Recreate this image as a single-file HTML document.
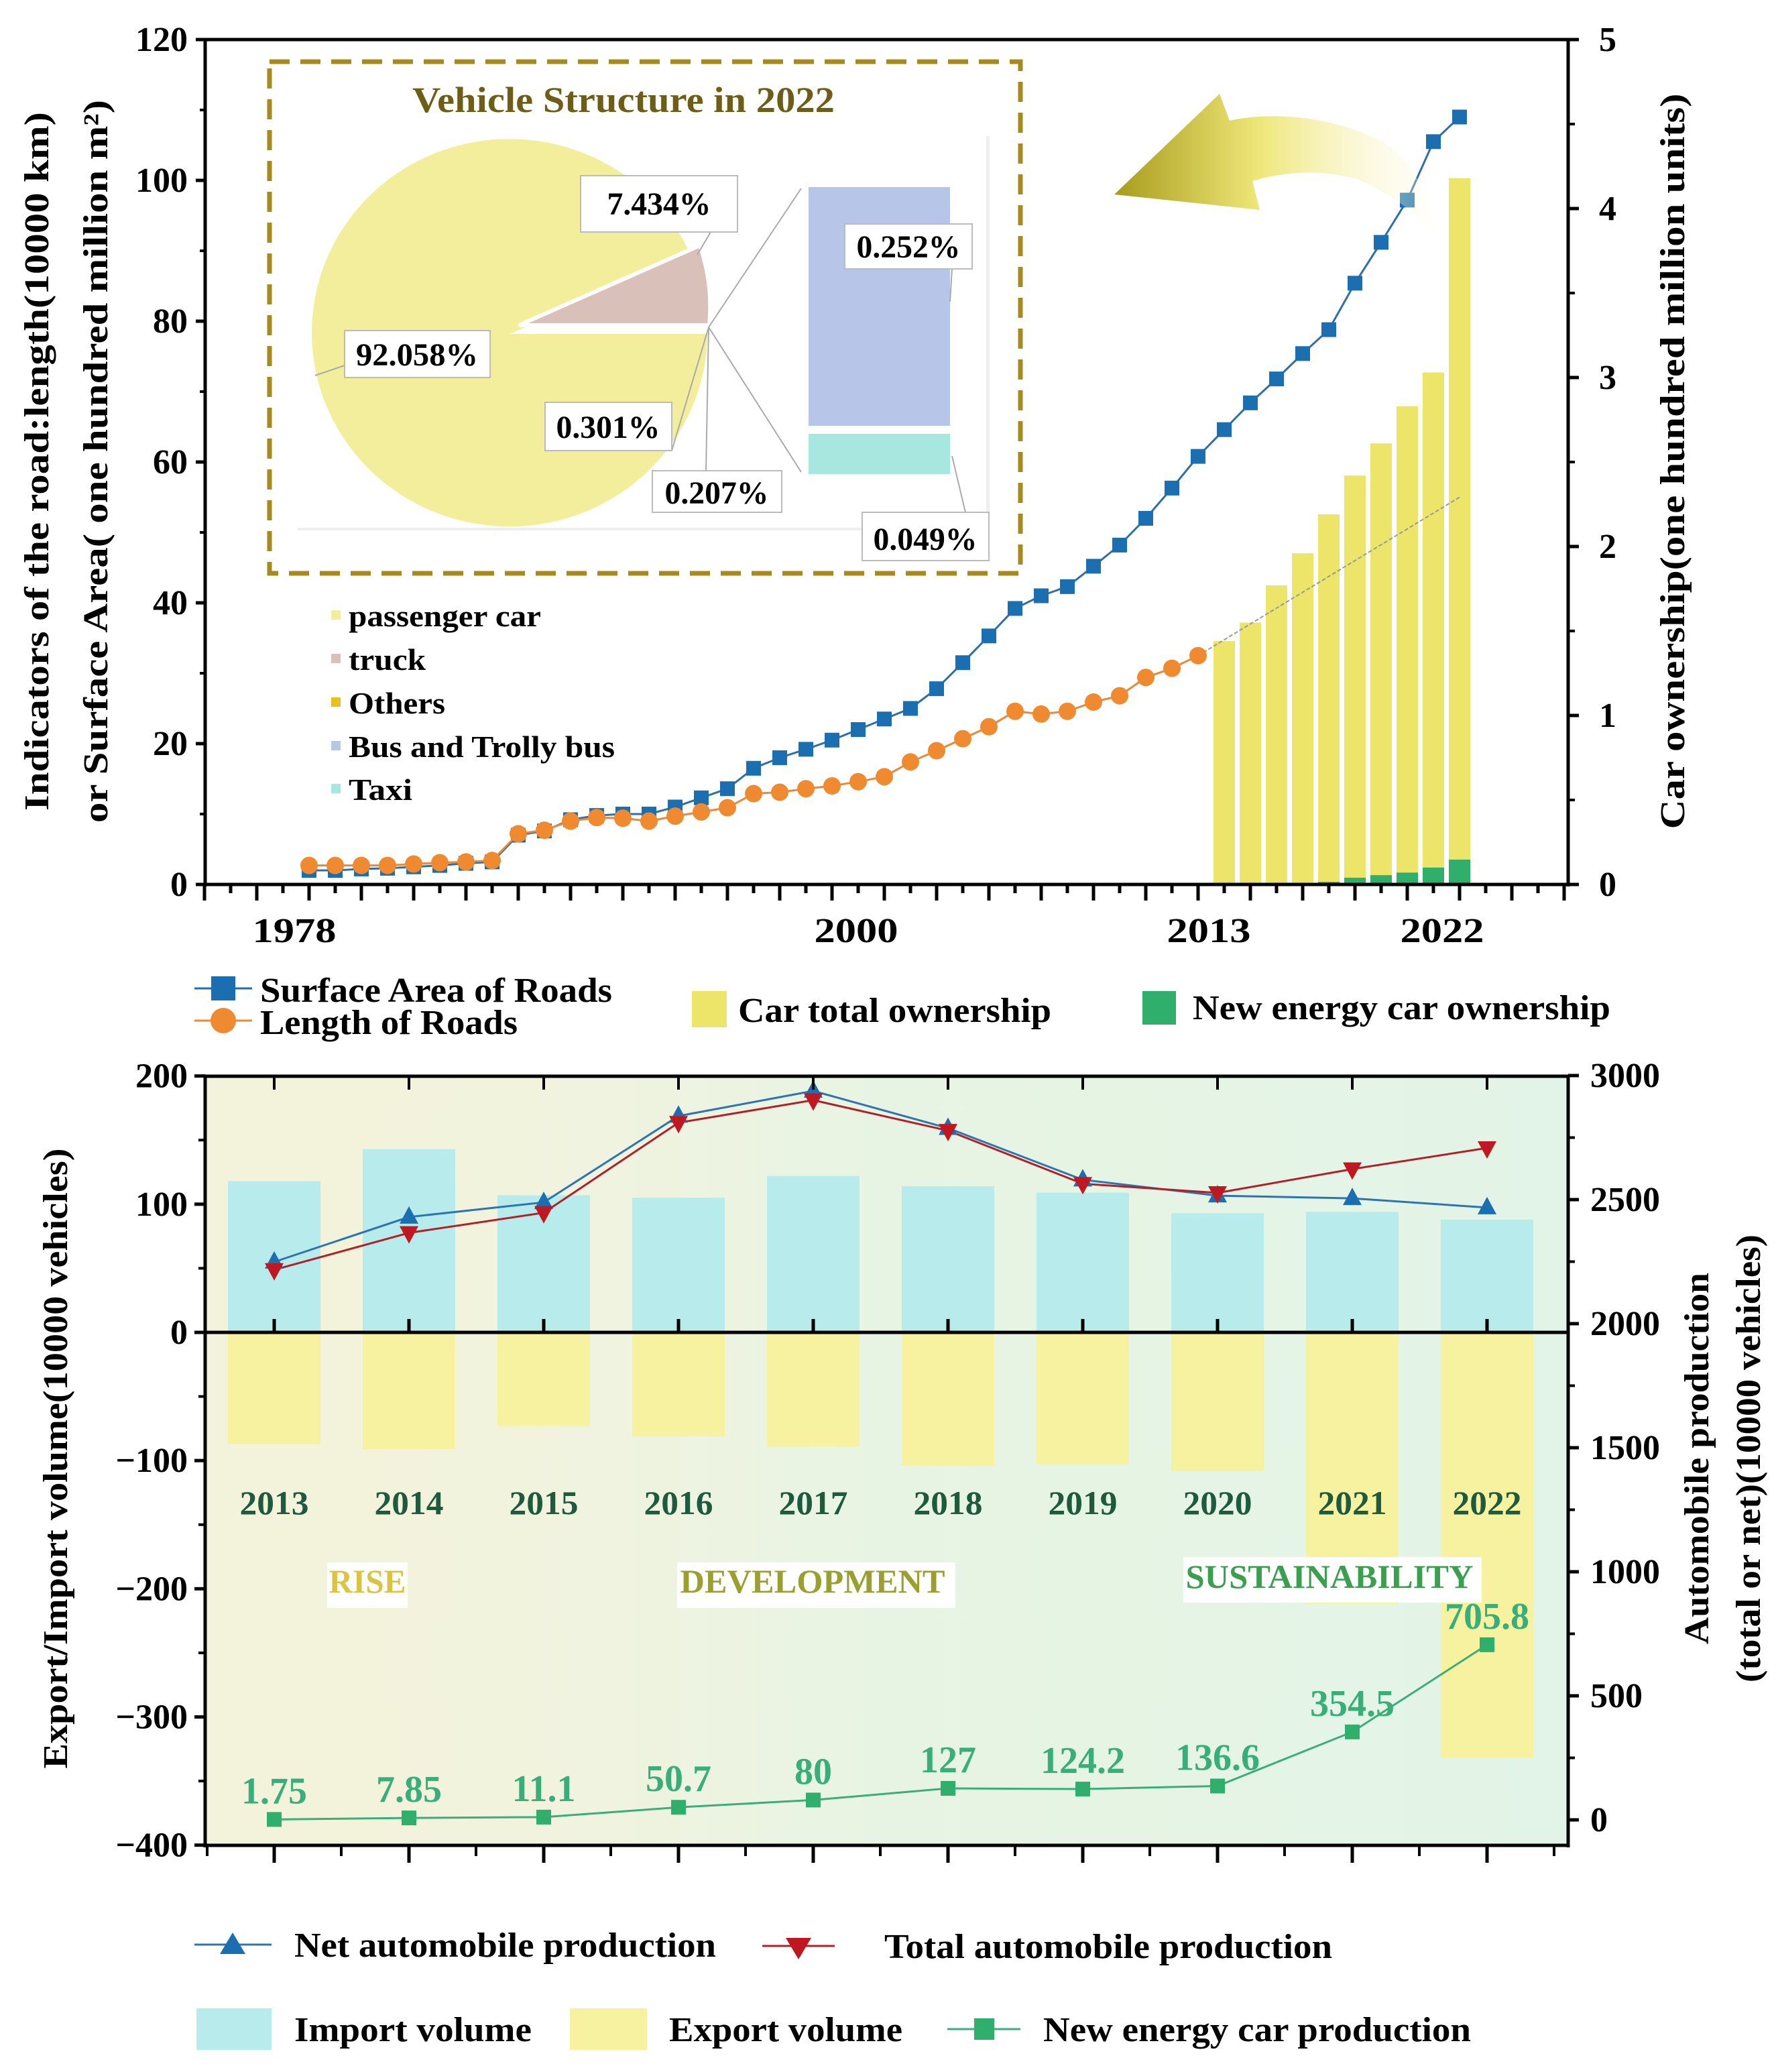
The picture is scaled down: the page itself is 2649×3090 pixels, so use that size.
<!DOCTYPE html>
<html><head><meta charset="utf-8"><style>
html,body{margin:0;padding:0;background:#fff;}
svg{display:block;font-family:"Liberation Serif",serif;font-weight:bold;}
</style></head><body>
<svg id="chart" width="2649" height="3090" viewBox="0 0 2649 3090">
<defs>
<linearGradient id="arrowGrad" x1="0" y1="0" x2="1" y2="0">
<stop offset="0" stop-color="#a89c1c"/><stop offset="0.45" stop-color="#eee678"/><stop offset="1" stop-color="#fffbe8" stop-opacity="0.2"/>
</linearGradient>
<linearGradient id="bgGrad" x1="0" y1="0" x2="1" y2="0">
<stop offset="0" stop-color="#f3f3dc"/><stop offset="0.25" stop-color="#f1f3df"/><stop offset="0.5" stop-color="#e8f4e3"/><stop offset="1" stop-color="#e2f4e7"/>
</linearGradient>
</defs>
<g id="top">
<g id="topMarks"></g>
<path d="M1662,290 L1819,140 L1834,180 C1900,165 1990,175 2060,210 C2110,240 2130,290 2140,345 C2110,320 2080,290 2024,267 C1970,252 1915,256 1868,270 L1879,313 Z" fill="url(#arrowGrad)"/>
<line x1="306" y1="59" x2="2339" y2="59" stroke="#000" stroke-width="5"/>
<line x1="306" y1="57" x2="306" y2="1322" stroke="#000" stroke-width="5"/>
<line x1="2339" y1="57" x2="2339" y2="1322" stroke="#000" stroke-width="5"/>
<line x1="304" y1="1319" x2="2341" y2="1319" stroke="#000" stroke-width="5"/>
<g id="topTicks"></g>
<g font-size="52" text-anchor="middle">
<text x="439" y="1405" textLength="125">1978</text>
<text x="1277" y="1405" textLength="125">2000</text>
<text x="1803" y="1405" textLength="125">2013</text>
<text x="2151" y="1405" textLength="125">2022</text>
</g>
<text transform="translate(72,688) rotate(-90)" font-size="52" text-anchor="middle" textLength="1042">Indicators of the road:length(10000 km)</text>
<text transform="translate(160,688) rotate(-90)" font-size="52" text-anchor="middle" textLength="1078">or Surface Area( one hundred million m²)</text>
<text transform="translate(2512,688) rotate(-90)" font-size="52" text-anchor="middle" textLength="1097">Car ownership(one hundred million units)</text>
<rect x="402" y="92" width="1120" height="763" fill="none" stroke="#a8891e" stroke-width="7" stroke-dasharray="30,16"/>
<text x="930" y="167" font-size="54" text-anchor="middle" fill="#6e5d16" textLength="630">Vehicle Structure in 2022</text>
<rect x="444" y="203" width="1032" height="588" fill="#eeeeee"/>
<rect x="439" y="199" width="1032" height="588" fill="#fff"/>
<path d="M760,498 L1055,498 A295,289 0 1 1 1031,382 Z" fill="#f3ee9c"/>
<path d="M774,485 L1044,366 A295,289 0 0 1 1058,485 Z" fill="#d9c0b8" stroke="#fff" stroke-width="6"/>
<rect x="1206" y="279" width="211" height="356" fill="#b7c6e8"/>
<rect x="1206" y="647" width="211" height="60" fill="#a8e6e0"/>
<g stroke="#aaa" stroke-width="2" fill="none">
<line x1="1057" y1="488" x2="1195" y2="281"/><line x1="1057" y1="488" x2="1195" y2="704"/>
<line x1="1057" y1="488" x2="1053" y2="702"/><line x1="1057" y1="488" x2="1002" y2="672"/>
<line x1="1040" y1="380" x2="1060" y2="346"/><line x1="1417" y1="450" x2="1420" y2="401"/><line x1="1420" y1="680" x2="1440" y2="764"/><line x1="470" y1="560" x2="514" y2="545"/>
</g>
<g font-size="48" text-anchor="middle">
<rect x="866" y="262" width="234" height="84" fill="#fff" stroke="#bbb" stroke-width="2"/><text x="983" y="320" textLength="155">7.434%</text>
<rect x="1260" y="334" width="190" height="67" fill="#fff" stroke="#bbb" stroke-width="2"/><text x="1355" y="384" textLength="155">0.252%</text>
<rect x="514" y="493" width="217" height="70" fill="#fff" stroke="#bbb" stroke-width="2"/><text x="622" y="545" textLength="182">92.058%</text>
<rect x="813" y="600" width="189" height="72" fill="#fff" stroke="#bbb" stroke-width="2"/><text x="907" y="653" textLength="155">0.301%</text>
<rect x="973" y="702" width="193" height="62" fill="#fff" stroke="#bbb" stroke-width="2"/><text x="1069" y="751" textLength="155">0.207%</text>
<rect x="1286" y="764" width="189" height="72" fill="#fff" stroke="#bbb" stroke-width="2"/><text x="1380" y="820" textLength="155">0.049%</text>
</g>
<g font-size="46">
<rect x="494" y="910" width="14" height="14" fill="#f3ee9c"/><text x="520" y="934" textLength="287">passenger car</text>
<rect x="494" y="975" width="14" height="14" fill="#d9c0b8"/><text x="520" y="999" textLength="115">truck</text>
<rect x="494" y="1040" width="14" height="14" fill="#e8c020"/><text x="520" y="1064" textLength="144">Others</text>
<rect x="494" y="1105" width="14" height="14" fill="#b7c6e8"/><text x="520" y="1129" textLength="397">Bus and Trolly bus</text>
<rect x="494" y="1169" width="14" height="14" fill="#a8e6e0"/><text x="520" y="1193" textLength="95">Taxi</text>
</g>
<g font-size="52">
<line x1="290" y1="1474" x2="376" y2="1474" stroke="#1b6fb0" stroke-width="3"/><rect x="315" y="1456" width="36" height="36" fill="#1b6fb0"/>
<text x="388" y="1494" textLength="525">Surface Area of Roads</text>
<line x1="290" y1="1522" x2="376" y2="1522" stroke="#f08a30" stroke-width="3"/><circle cx="333" cy="1522" r="19" fill="#f08a30"/>
<text x="388" y="1542" textLength="384">Length of Roads</text>
<rect x="1032" y="1478" width="52" height="54" fill="#ede46a"/><text x="1101" y="1524" textLength="467">Car total ownership</text>
<rect x="1704" y="1478" width="50" height="50" fill="#2fae6c"/><text x="1779" y="1520" textLength="623">New energy car ownership</text>
</g>
</g>
<g id="bottom">
<rect x="306" y="1605" width="2033" height="1147" fill="url(#bgGrad)"/>
<rect x="306" y="1605" width="501" height="1147" fill="#f3f3dc" opacity="0.6"/>
<g id="botMarks"></g>
<line x1="306" y1="1605" x2="2339" y2="1605" stroke="#000" stroke-width="5"/>
<line x1="306" y1="1603" x2="306" y2="2755" stroke="#000" stroke-width="5"/>
<line x1="2339" y1="1603" x2="2339" y2="2755" stroke="#000" stroke-width="5"/>
<line x1="304" y1="2752" x2="2341" y2="2752" stroke="#000" stroke-width="5"/>
<line x1="304" y1="1987" x2="2341" y2="1987" stroke="#000" stroke-width="5"/>
<g id="botTicks"></g>
<text transform="translate(100,2175) rotate(-90)" font-size="52" text-anchor="middle" textLength="925">Export/Import volume(10000 vehicles)</text>
<text transform="translate(2548,2175) rotate(-90)" font-size="52" text-anchor="middle" textLength="554">Automobile production</text>
<text transform="translate(2625,2175) rotate(-90)" font-size="52" text-anchor="middle" textLength="668">(total or net)(10000 vehicles)</text>
<g font-size="50" text-anchor="middle">
<rect x="488" y="2330" width="120" height="68" fill="#fff"/><text x="548" y="2375" fill="#d9c443" textLength="115">RISE</text>
<rect x="1010" y="2330" width="415" height="68" fill="#fff"/><text x="1212" y="2375" fill="#9aa030" textLength="395">DEVELOPMENT</text>
<rect x="1765" y="2322" width="445" height="68" fill="#fff"/><text x="1983" y="2368" fill="#3aa050" textLength="429">SUSTAINABILITY</text>
</g>
<g font-size="52">
<line x1="290" y1="2900" x2="405" y2="2900" stroke="#2d74b0" stroke-width="3"/><path d="M347,2882 L366,2914 L328,2914 Z" fill="#1b6fb0"/>
<text x="439" y="2918" textLength="629">Net automobile production</text>
<line x1="1137" y1="2902" x2="1245" y2="2902" stroke="#b02028" stroke-width="3"/><path d="M1172,2890 L1210,2890 L1191,2922 Z" fill="#c01820"/>
<text x="1319" y="2920" textLength="668">Total automobile production</text>
<rect x="293" y="2995" width="112" height="62" fill="#b8ecec"/><text x="439" y="3044" textLength="354">Import volume</text>
<rect x="850" y="2995" width="115" height="62" fill="#f6f2a0"/><text x="998" y="3044" textLength="348">Export volume</text>
<line x1="1413" y1="3026" x2="1522" y2="3026" stroke="#3aae7a" stroke-width="3"/><rect x="1453" y="3010" width="30" height="32" fill="#2fae6c"/>
<text x="1556" y="3044" textLength="638">New energy car production</text>
</g>
</g>
</svg>
<script>
// ---- top chart data ----
const years = [1978,1979,1980,1981,1982,1983,1984,1985,1986,1987,1988,1989,1990,1991,1992,1993,1994,1995,1996,1997,1998,1999,2000,2001,2002,2003,2004,2005,2006,2007,2008,2009,2010,2011,2012,2013,2014,2015,2016,2017,2018,2019,2020,2021,2022];
const surfaceArea = [2.0,2.0,2.2,2.3,2.5,2.7,3.0,3.2,7.0,7.6,9.2,9.8,10.0,10.0,11.0,12.3,13.6,16.5,18.0,19.2,20.5,22.0,23.5,25.0,27.8,31.5,35.3,39.2,41.0,42.3,45.2,48.2,52.0,56.3,60.8,64.6,68.4,71.8,75.4,78.8,85.4,91.2,97.2,105.5,109.0];
const lengthYears = [1978,1979,1980,1981,1982,1983,1984,1985,1986,1987,1988,1989,1990,1991,1992,1993,1994,1995,1996,1997,1998,1999,2000,2001,2002,2003,2004,2005,2006,2007,2008,2009,2010,2011,2012];
const roadLength = [2.7,2.7,2.7,2.7,2.9,3.1,3.2,3.4,7.2,7.7,9.0,9.5,9.4,9.0,9.7,10.3,10.9,12.9,13.1,13.6,14.0,14.6,15.3,17.4,19.0,20.7,22.4,24.6,24.2,24.6,25.9,26.8,29.4,30.7,32.5];
const ownYears = [2013,2014,2015,2016,2017,2018,2019,2020,2021,2022];
const carTotal = [1.44,1.55,1.77,1.96,2.19,2.42,2.61,2.83,3.03,4.18];
const newEnergyOwn = [0.002,0.004,0.006,0.01,0.015,0.04,0.055,0.07,0.10,0.147];
const leftTicks = [0,20,40,60,80,100,120];
const rightTicks = [0,1,2,3,4,5];
// ---- bottom chart data ----
const cats = ['2013','2014','2015','2016','2017','2018','2019','2020','2021','2022'];
const importVol = [118,143,107,105,122,114,109,93,94,88];
const exportVol = [-87,-91,-73,-81,-89,-104,-103,-108,-212,-332];
const netProd = [2249,2430,2489,2837,2938,2788,2580,2516,2505,2468];
const totalProd = [2217,2366,2447,2810,2901,2778,2564,2527,2623,2708];
const neProd = [1.75,7.85,11.1,50.7,80,127,124.2,136.6,354.5,705.8];
const neLabels = ['1.75','7.85','11.1','50.7','80','127','124.2','136.6','354.5','705.8'];
const bLeftTicks = [200,100,0,-100,-200,-300,-400];
const bRightTicks = [3000,2500,2000,1500,1000,500,0];

const NS='http://www.w3.org/2000/svg';
function mk(tag, attrs, parent){const e=document.createElementNS(NS,tag);for(const k in attrs)e.setAttribute(k,attrs[k]);parent.appendChild(e);return e;}
const xT = y => 461 + (y-1978)*39.0;
const yL = v => 1319 - v*10.5;
const yR = v => 1319 - v*252;
const xB = i => 409 + i*201;
const yLB = v => 1987 - v*1.9117;
const yRB = v => 2714 - v*0.370;

const tm=document.getElementById('topMarks');
ownYears.forEach((y,i)=>{
  const b=mk('rect',{x:xT(y)-16,y:yR(carTotal[i]),width:32,height:1319-yR(carTotal[i]),fill:'#ede46a'},tm);
  
  
  const g=mk('rect',{x:xT(y)-16,y:yR(newEnergyOwn[i]),width:32,height:1319-yR(newEnergyOwn[i]),fill:'#2fae6c'},tm);
  
  
});
const cont=mk('line',{x1:xT(2012),y1:yL(roadLength[roadLength.length-1]),x2:xT(2022),y2:yL(55),stroke:'#999',"stroke-width":2,"stroke-dasharray":"6,3"},tm);


const sl=mk('polyline',{points:years.map((y,i)=>xT(y)+','+yL(surfaceArea[i])).join(' '),fill:'none',stroke:'#2d6fa8','stroke-width':3},tm);


years.forEach((y,i)=>{
  const m=mk('rect',{x:xT(y)-11,y:yL(surfaceArea[i])-11,width:22,height:22,fill:'#1b6fb0'},tm);
  
  
});
const ll=mk('polyline',{points:lengthYears.map((y,i)=>xT(y)+','+yL(roadLength[i])).join(' '),fill:'none',stroke:'#e8883a','stroke-width':3},tm);


lengthYears.forEach((y,i)=>{
  const c=mk('circle',{cx:xT(y),cy:yL(roadLength[i]),r:13,fill:'#f08a30'},tm);
  
  
});
const tt=document.getElementById('topTicks');
for(let y=1974;y<=2026;y++){
  const major=(y%2===0);
  mk('line',{x1:xT(y),y1:1319,x2:xT(y),y2:1319+(major?24:13),stroke:'#000','stroke-width':5},tt);
}
leftTicks.forEach(v=>{
  mk('line',{x1:306,y1:yL(v),x2:292,y2:yL(v),stroke:'#000','stroke-width':5},tt);
  mk('line',{x1:306,y1:yL(v+10),x2:298,y2:yL(v+10),stroke:'#000','stroke-width':4},tt);
  const t=mk('text',{x:280,y:yL(v)+17,'font-size':52,'text-anchor':'end'},tt);
  t.textContent=v;
  
  
});
rightTicks.forEach(v=>{
  mk('line',{x1:2339,y1:yR(v),x2:2355,y2:yR(v),stroke:'#000','stroke-width':5},tt);
  if(v<5)mk('line',{x1:2339,y1:yR(v+0.5),x2:2349,y2:yR(v+0.5),stroke:'#000','stroke-width':4},tt);
  const t=mk('text',{x:2385,y:yR(v)+17,'font-size':52,'text-anchor':'start'},tt);
  t.textContent=v;
  
  
});

const bm=document.getElementById('botMarks');
cats.forEach((c,i)=>{
  const r1=mk('rect',{x:xB(i)-69,y:yLB(importVol[i]),width:138,height:yLB(0)-yLB(importVol[i]),fill:'#b8ecec'},bm);
  
  
  const r2=mk('rect',{x:xB(i)-69,y:yLB(0),width:138,height:yLB(exportVol[i])-yLB(0),fill:'#f6f2a0'},bm);
  
  
  const t=mk('text',{x:xB(i),y:2258,'font-size':50,'text-anchor':'middle',fill:'#1d5a3e',textLength:103},bm);
  t.textContent=c;
  
  
});
function series(vals,color,name){
  const p=mk('polyline',{points:vals.map((v,i)=>xB(i)+','+yRB(v)).join(' '),fill:'none',stroke:color,'stroke-width':3},bm);
  
  
}
series(netProd,'#2d74b0','net-production');
series(totalProd,'#b02028','total-production');
series(neProd,'#3aae7a','new-energy-production');
cats.forEach((c,i)=>{
  const x=xB(i),y=yRB(netProd[i]);
  const a=mk('path',{d:`M${x},${y-16} L${x+14},${y+10} L${x-14},${y+10} Z`,fill:'#1b6fb0'},bm);
  
  
  const y2=yRB(totalProd[i]);
  const b=mk('path',{d:`M${x-14},${y2-10} L${x+14},${y2-10} L${x},${y2+16} Z`,fill:'#c01820'},bm);
  
  
  const y3=yRB(neProd[i]);
  const s=mk('rect',{x:x-11,y:y3-11,width:22,height:22,fill:'#2fae6c'},bm);
  
  
  const l=mk('text',{x:x,y:y3-24,'font-size':56,'text-anchor':'middle',fill:'#3aae7a'},bm);
  l.textContent=neLabels[i];
  
  
});
const bt=document.getElementById('botTicks');
cats.forEach((c,i)=>{
  mk('line',{x1:xB(i),y1:2752,x2:xB(i),y2:2778,stroke:'#000','stroke-width':5},bt);
  mk('line',{x1:xB(i)+100,y1:2752,x2:xB(i)+100,y2:2768,stroke:'#000','stroke-width':4},bt);
  mk('line',{x1:xB(i),y1:1987,x2:xB(i),y2:1967,stroke:'#000','stroke-width':5},bt);
  mk('line',{x1:xB(i),y1:1605,x2:xB(i),y2:1625,stroke:'#000','stroke-width':4},bt);
});
mk('line',{x1:xB(0)-100,y1:2752,x2:xB(0)-100,y2:2768,stroke:'#000','stroke-width':4},bt);
bLeftTicks.forEach(v=>{
  mk('line',{x1:306,y1:yLB(v),x2:290,y2:yLB(v),stroke:'#000','stroke-width':5},bt);
  if(v>-400)mk('line',{x1:306,y1:yLB(v-50),x2:296,y2:yLB(v-50),stroke:'#000','stroke-width':4},bt);
  const t=mk('text',{x:280,y:yLB(v)+17,'font-size':52,'text-anchor':'end'},bt);
  t.textContent=v<0?'\u2212'+(-v):v;
  
  
});
bRightTicks.forEach(v=>{
  mk('line',{x1:2339,y1:yRB(v),x2:2355,y2:yRB(v),stroke:'#000','stroke-width':5},bt);
  if(v<3000)mk('line',{x1:2339,y1:yRB(v+250),x2:2349,y2:yRB(v+250),stroke:'#000','stroke-width':4},bt);
  const t=mk('text',{x:2372,y:yRB(v)+17,'font-size':52,'text-anchor':'start'},bt);
  t.textContent=v;
  
  
});
document.querySelectorAll('text[textLength]').forEach(t=>t.setAttribute('lengthAdjust','spacingAndGlyphs'));
</script>
</body></html>
